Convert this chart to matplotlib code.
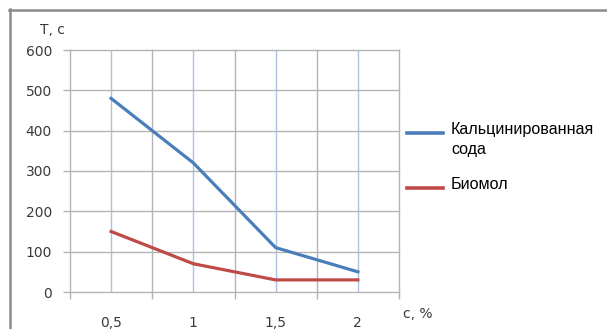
import numpy as np
import matplotlib.pyplot as plt
from matplotlib.lines import Line2D

# concentration, %
conc = [0.5, 1.0, 1.5, 2.0]
soda = [480, 320, 110, 50]
biomol = [150, 70, 30, 30]
x_labels = ['0,5', '1', '1,5', '2']
y_ticks = [0, 100, 200, 300, 400, 500, 600]
series_names = ['Кальцинированная\nсода', 'Биомол']
series_colors = ['#4a7ebb', '#be4b48']

W, H = 607, 329
fig = plt.figure(figsize=(W / 100, H / 100), dpi=100)
ax = fig.add_axes([70 / W, 1 - 292 / H, 329 / W, 242 / H])

grid_gray = '#b4b4b4'
# gray grid between categories, light blue at data points
for xv in [0.25, 0.75, 1.25, 1.75, 2.25]:
    ax.axvline(xv, color=grid_gray, lw=1.0, zorder=1, clip_on=False)
for xv in conc:
    ax.axvline(xv, color='#a9c1e3', lw=1.0, zorder=1)
for yv in y_ticks:
    ax.axhline(yv, color=grid_gray, lw=1.0, zorder=1, clip_on=False)

ax.plot(conc, soda, color=series_colors[0], lw=2.3, zorder=3)
ax.plot(conc, biomol, color=series_colors[1], lw=2.3, zorder=3)

ax.set_xlim(0.25, 2.25)
ax.set_ylim(0, 600)
for s in ax.spines.values():
    s.set_visible(False)

ax.set_yticks(y_ticks)
ax.set_yticklabels([str(v) for v in y_ticks])
ax.set_xticks(conc)
ax.set_xticklabels(x_labels)
ax.set_xticks([0.25, 0.75, 1.25, 1.75, 2.25], minor=True)
ax.tick_params(axis='x', which='major', length=0, pad=17, labelsize=10, labelcolor='#3a3a3a')
ax.tick_params(axis='x', which='minor', length=5, color=grid_gray, width=1.0)
ax.tick_params(axis='y', length=5, color=grid_gray, width=1.0, pad=8, labelsize=10, labelcolor='#3a3a3a')

fig.text(40 / W, 1 - 30 / H, 'T, c', fontsize=10, color='#3a3a3a', ha='left', va='center')
fig.text(403 / W, 1 - 314 / H, 'c, %', fontsize=10, color='#3a3a3a', ha='left', va='center')

# legend, Excel style: key aligned with first text line
leg_font = {'family': 'Liberation Sans', 'size': 11.6}
for name, col, ly in zip(series_names, series_colors, [133, 188]):
    fig.add_artist(Line2D([407 / W, 443 / W], [1 - ly / H, 1 - ly / H], color=col, lw=2.6))
    fig.text(451 / W, 1 - (ly - 11) / H, name, color='black', ha='left', va='top',
             linespacing=1.4, fontdict=leg_font)

# outer chart border (top and left)
fig.add_artist(Line2D([9 / W, 1], [1 - 9.5 / H, 1 - 9.5 / H], color='#8a8a8a', lw=1.8))
fig.add_artist(Line2D([9.5 / W, 9.5 / W], [0, 1 - 9 / H], color='#8a8a8a', lw=1.8))

fig.savefig('out.png', dpi=100)
